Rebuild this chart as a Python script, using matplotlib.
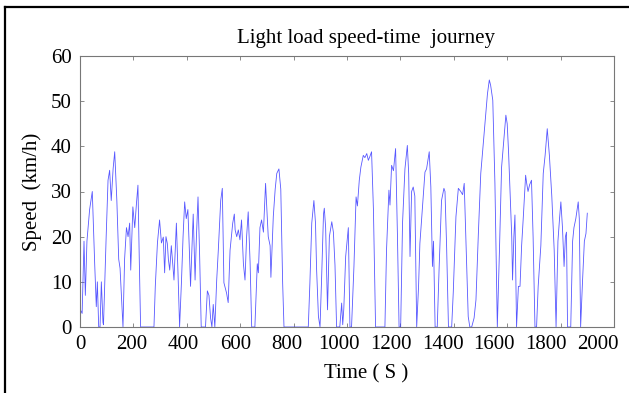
import matplotlib
matplotlib.use("Agg")
import matplotlib.pyplot as plt
from matplotlib.lines import Line2D
from matplotlib.transforms import ScaledTranslation

plt.rcParams['font.family'] = ['Liberation Serif', 'DejaVu Serif']

# drive cycle: time (s) and vehicle speed (km/h)
time_s = [0, 8, 15, 20, 26, 36, 46, 55, 61, 65, 70, 75, 80, 86, 88, 98, 105, 111, 117, 124,
          130, 138, 145, 150, 156, 161, 167, 174, 180, 186, 190, 198, 205, 211, 217, 222, 227, 277, 282, 290,
          298, 305, 312, 317, 322, 327, 331, 336, 342, 352, 361, 367, 373, 380, 386, 392, 398, 404, 409, 414,
          419, 424, 431, 436, 442, 448, 454, 470, 477, 483, 489, 494, 499, 505, 512, 518, 527, 533, 539, 549,
          555, 562, 572, 578, 581, 587, 593, 599, 605, 612, 618, 624, 630, 637, 643, 655, 664, 668, 674, 680,
          687, 695, 705, 712, 715, 724, 731, 737, 745, 752, 759, 764, 855, 861, 868, 876, 882, 886, 893, 899,
          905, 912, 915, 920, 927, 934, 943, 949, 955, 961, 973, 980, 984, 988, 995, 1005, 1011, 1017, 1026, 1034,
          1039, 1046, 1052, 1061, 1067, 1074, 1080, 1086, 1092, 1099, 1107, 1142, 1148, 1157, 1161, 1167, 1174, 1182, 1189, 1195,
          1201, 1208, 1217, 1226, 1231, 1236, 1242, 1248, 1254, 1261, 1268, 1273, 1282, 1292, 1298, 1308, 1314, 1320, 1324, 1330,
          1338, 1345, 1354, 1363, 1367, 1373, 1380, 1392, 1398, 1408, 1417, 1426, 1433, 1439, 1448, 1454, 1460, 1467, 1476, 1483,
          1492, 1501, 1508, 1517, 1526, 1533, 1538, 1546, 1554, 1563, 1571, 1579, 1588, 1595, 1600, 1605, 1617, 1620, 1625, 1629,
          1635, 1642, 1648, 1654, 1660, 1669, 1673, 1678, 1684, 1691, 1697, 1704, 1710, 1716, 1726, 1735, 1742, 1750, 1758, 1767,
          1776, 1783, 1790, 1796, 1801, 1807, 1813, 1818, 1822, 1826, 1838, 1845, 1850, 1857, 1866, 1870, 1875, 1882, 1889, 1895,
          1900]
speed_kmh = [4, 3, 19, 7, 19, 26, 30, 14, 4.5, 10, 0, 0, 10, 1, 0.5, 20, 32.5, 34.7, 28, 35,
             38.8, 28, 15, 13, 6, 0, 15, 22, 20, 23, 12.6, 26.6, 22, 27, 31.4, 15, 0, 0, 9, 18.6,
             23.7, 18.6, 19.9, 12, 20, 18.5, 15, 12.6, 18, 10.4, 23, 12, 0, 10, 20, 27.7, 24, 26, 18, 9,
             17, 25, 10.4, 20, 28.8, 16, 0, 0, 8, 7, 2, 0, 5, 0, 10.4, 17, 28, 30.7, 9.8, 7.5,
             5.4, 17, 23, 25, 21.5, 20, 21.5, 19.3, 23.7, 14, 10.4, 20, 25.5, 14.4, 0, 0, 14, 12, 22, 23.7,
             21, 31.8, 20, 18, 11, 24.5, 30.5, 34, 35, 30.5, 9.7, 0, 0, 9.7, 23, 28, 23, 13, 2.3, 0,
             11, 25, 26.3, 22, 3.8, 20, 23.3, 21, 13.7, 0, 0, 5.3, 0.5, 4, 15.6, 22, 0, 0, 13.4, 28.8,
             26.8, 32.5, 35.4, 38, 37.5, 38.4, 36.9, 37.8, 38.8, 26, 0, 0, 17, 30.3, 27, 35.8, 34.6, 39.5, 20, 0,
             0, 23, 35, 40.2, 34, 15.6, 30, 31, 29, 0, 9, 18.5, 26, 34.3, 35, 38.8, 31, 13.4, 19, 0,
             0, 13, 28, 30.7, 30, 18, 0, 0, 7.7, 24.4, 30.7, 30, 29.3, 31.8, 14, 2.3, 0, 0, 2, 6,
             20.7, 34, 38.9, 45, 51.6, 54.7, 53.5, 50.2, 31.8, 0, 17, 35.4, 42, 46.9, 45, 38.9, 20, 10.4, 20, 24.8,
             0, 9, 9, 18, 24, 33.6, 31.8, 30, 31.5, 32.5, 20, 0, 0, 9, 18, 34, 38, 43.9, 38, 29,
             17, 0, 19, 24, 27.7, 22, 13.4, 20, 21, 0, 0, 19, 22, 24, 27.7, 24, 0, 10, 19, 20.7,
             25.2]

x_ticks = [0, 200, 400, 600, 800, 1000, 1200, 1400, 1600, 1800, 2000]
y_ticks = [0, 10, 20, 30, 40, 50, 60]

fig = plt.figure(figsize=(6.29, 3.93), dpi=100)
ax = fig.add_axes([80 / 629, 1 - 327 / 393, 534 / 629, 271 / 393])

ax.plot(time_s, speed_kmh, color='#3a3aff', linewidth=0.6, alpha=0.85)

ax.set_xlim(0, 2000)
ax.set_ylim(0, 60)
ax.set_xticks(x_ticks)
ax.set_yticks(y_ticks)
ax.tick_params(direction='in', length=3, width=0.6, color='#777777',
               top=True, right=True, labelsize=15, pad=6)
for s in ax.spines.values():
    s.set_color('#777777')
    s.set_linewidth(0.8)

# x labels sit a little tighter than the ticks, drifting left toward the end
for t, lab in zip(x_ticks, ax.get_xticklabels()):
    dx = -16 * t / 2000 / 100
    lab.set_transform(lab.get_transform() + ScaledTranslation(dx, 0, fig.dpi_scale_trans))

ax.set_xlabel('Time ( S )', fontsize=15, labelpad=7, x=0.536)
ax.set_ylabel('Speed  (km/h)', fontsize=15, labelpad=6)
fig.text(366 / 629, 1 - 38 / 393, 'Light load speed-time  journey',
         fontsize=15, ha='center', va='center')

# frame around the figure (left and top edges)
fig.add_artist(Line2D([5 / 629, 5 / 629], [0, 1 - 7 / 393], color='black', lw=1.6,
                      transform=fig.transFigure))
fig.add_artist(Line2D([5 / 629, 1], [1 - 7 / 393, 1 - 7 / 393], color='black', lw=1.6,
                      transform=fig.transFigure))

fig.savefig('out.png', dpi=100)
